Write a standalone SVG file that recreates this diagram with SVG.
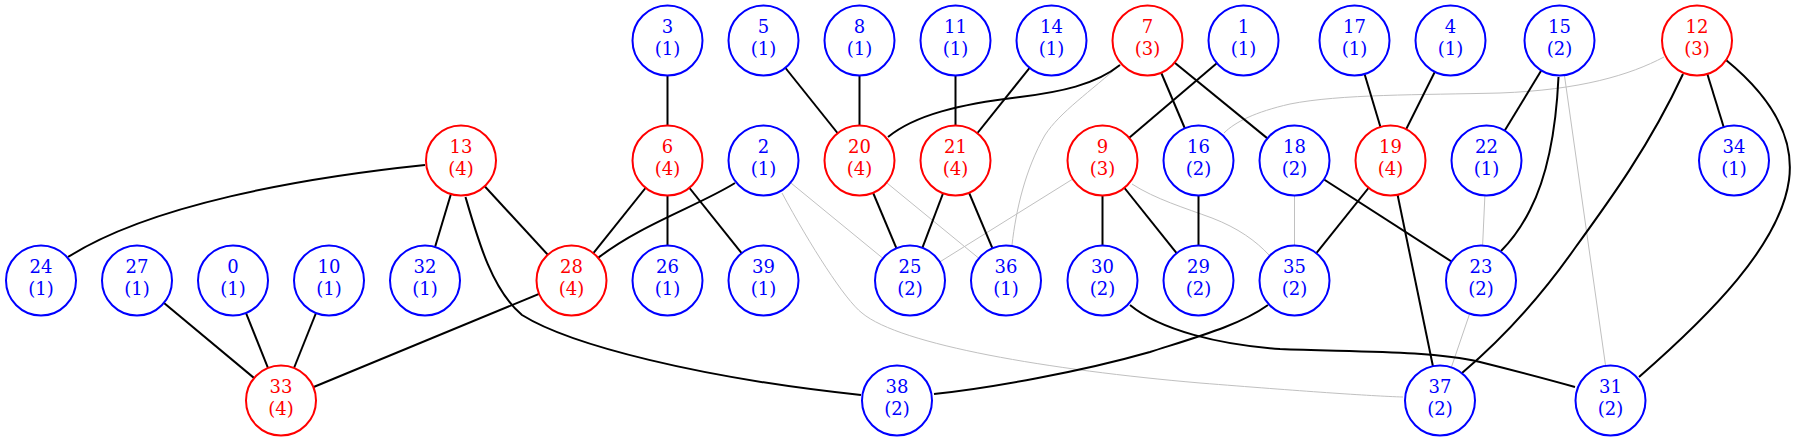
<svg xmlns="http://www.w3.org/2000/svg" width="1797" height="441" viewBox="0 0 1797 441">
<style>
.nd circle{fill:#fff;stroke-width:2}
.b circle{stroke:#0000ff}
.b text{fill:#0000ff}
.r circle{stroke:#ff0000}
.r text{fill:#ff0000}
text{font-family:"DejaVu Serif","Liberation Serif",serif;font-size:18px;text-anchor:middle}
.e{stroke:#000;stroke-width:2;fill:none}
.g{stroke:#c0c0c0;stroke-width:1;fill:none}
</style>
<rect width="1797" height="441" fill="#fff"/>
<g id="connectors">
<g class="g">
<line x1="763.5" y1="160.5" x2="910" y2="280.5"/>
<line x1="859.5" y1="160.5" x2="1006" y2="280.5"/>
<line x1="1102.5" y1="160.5" x2="910" y2="280.5"/>
<line x1="1294.5" y1="160.5" x2="1294.5" y2="280.5"/>
<line x1="1486.5" y1="160.5" x2="1481" y2="280.5"/>
<line x1="1481" y1="280.5" x2="1440" y2="400.5"/>
<line x1="1559.5" y1="40.5" x2="1610.5" y2="400.5"/>
<path d="M1122,63 C1090,92 1060,112 1045,135 C1025,170 1016,210 1012,245"/>
<path d="M782,193 C810,245 845,300 862,313 C900,345 1050,370 1200,383 C1300,391 1370,396 1403,397"/>
<path d="M1132,184 C1155,199 1185,208 1212,218 C1238,228 1256,241 1269,255"/>
<path d="M1664,57 C1630,75 1580,90 1500,93 C1420,95 1340,94 1290,104 C1255,112 1235,122 1224,133"/>
</g>
<g class="e">
<line x1="461" y1="160.5" x2="425" y2="280.5"/>
<line x1="461" y1="160.5" x2="571.5" y2="280.5"/>
<line x1="137" y1="280.5" x2="281" y2="400.5"/>
<line x1="233" y1="280.5" x2="281" y2="400.5"/>
<line x1="329" y1="280.5" x2="281" y2="400.5"/>
<line x1="571.5" y1="280.5" x2="281" y2="400.5"/>
<line x1="667.5" y1="40.5" x2="667.5" y2="160.5"/>
<line x1="667.5" y1="160.5" x2="571.5" y2="280.5"/>
<line x1="667.5" y1="160.5" x2="667.5" y2="280.5"/>
<line x1="667.5" y1="160.5" x2="763.5" y2="280.5"/>
<line x1="763.5" y1="40.5" x2="859.5" y2="160.5"/>
<line x1="859.5" y1="40.5" x2="859.5" y2="160.5"/>
<line x1="955.5" y1="40.5" x2="955.5" y2="160.5"/>
<line x1="1051.5" y1="40.5" x2="955.5" y2="160.5"/>
<line x1="859.5" y1="160.5" x2="910" y2="280.5"/>
<line x1="955.5" y1="160.5" x2="910" y2="280.5"/>
<line x1="955.5" y1="160.5" x2="1006" y2="280.5"/>
<line x1="1243.5" y1="40.5" x2="1102.5" y2="160.5"/>
<line x1="1147.5" y1="40.5" x2="1198.5" y2="160.5"/>
<line x1="1147.5" y1="40.5" x2="1294.5" y2="160.5"/>
<line x1="1102.5" y1="160.5" x2="1102.5" y2="280.5"/>
<line x1="1102.5" y1="160.5" x2="1198.5" y2="280.5"/>
<line x1="1198.5" y1="160.5" x2="1198.5" y2="280.5"/>
<line x1="1354.5" y1="40.5" x2="1390.5" y2="160.5"/>
<line x1="1450.5" y1="40.5" x2="1390.5" y2="160.5"/>
<line x1="1559.5" y1="40.5" x2="1486.5" y2="160.5"/>
<line x1="1294.5" y1="160.5" x2="1481" y2="280.5"/>
<line x1="1390.5" y1="160.5" x2="1294.5" y2="280.5"/>
<line x1="1390.5" y1="160.5" x2="1440" y2="400.5"/>
<line x1="1697" y1="40.5" x2="1734" y2="160.5"/>
<path d="M425,165 C300,178 150,205 68,257"/>
<path d="M465.5,197 C478,240 492,290 522,315 C570,345 700,378 861,395"/>
<path d="M735,183 C700,205 640,225 598,258"/>
<path d="M1120,65 C1095,85 1060,92 1020,97 C960,104 915,115 888,137"/>
<path d="M1268,305 C1240,325 1200,336 1150,352 C1080,372 990,388 934,394"/>
<path d="M1130,305 C1160,330 1220,345 1280,349 C1350,352 1430,350 1480,362 C1520,372 1550,380 1575,387"/>
<path d="M1558.5,77 C1556,130 1548,175 1530,210 C1520,230 1509,243 1501,251"/>
<path d="M1683,74 C1650,145 1610,200 1575,248 C1535,305 1495,345 1462,373"/>
<path d="M1726,60 C1770,96 1795,135 1789,180 C1780,245 1710,315 1639,377"/>
</g>
</g>
<g id="node-0" class="nd b"><circle cx="233" cy="280.5" r="35"/><text><tspan x="233" y="273">0</tspan><tspan x="233" y="294.7">(1)</tspan></text></g>
<g id="node-1" class="nd b"><circle cx="1243.5" cy="40.5" r="35"/><text><tspan x="1243.5" y="33">1</tspan><tspan x="1243.5" y="54.7">(1)</tspan></text></g>
<g id="node-2" class="nd b"><circle cx="763.5" cy="160.5" r="35"/><text><tspan x="763.5" y="153">2</tspan><tspan x="763.5" y="174.7">(1)</tspan></text></g>
<g id="node-3" class="nd b"><circle cx="667.5" cy="40.5" r="35"/><text><tspan x="667.5" y="33">3</tspan><tspan x="667.5" y="54.7">(1)</tspan></text></g>
<g id="node-4" class="nd b"><circle cx="1450.5" cy="40.5" r="35"/><text><tspan x="1450.5" y="33">4</tspan><tspan x="1450.5" y="54.7">(1)</tspan></text></g>
<g id="node-5" class="nd b"><circle cx="763.5" cy="40.5" r="35"/><text><tspan x="763.5" y="33">5</tspan><tspan x="763.5" y="54.7">(1)</tspan></text></g>
<g id="node-6" class="nd r"><circle cx="667.5" cy="160.5" r="35"/><text><tspan x="667.5" y="153">6</tspan><tspan x="667.5" y="174.7">(4)</tspan></text></g>
<g id="node-7" class="nd r"><circle cx="1147.5" cy="40.5" r="35"/><text><tspan x="1147.5" y="33">7</tspan><tspan x="1147.5" y="54.7">(3)</tspan></text></g>
<g id="node-8" class="nd b"><circle cx="859.5" cy="40.5" r="35"/><text><tspan x="859.5" y="33">8</tspan><tspan x="859.5" y="54.7">(1)</tspan></text></g>
<g id="node-9" class="nd r"><circle cx="1102.5" cy="160.5" r="35"/><text><tspan x="1102.5" y="153">9</tspan><tspan x="1102.5" y="174.7">(3)</tspan></text></g>
<g id="node-10" class="nd b"><circle cx="329" cy="280.5" r="35"/><text><tspan x="329" y="273">10</tspan><tspan x="329" y="294.7">(1)</tspan></text></g>
<g id="node-11" class="nd b"><circle cx="955.5" cy="40.5" r="35"/><text><tspan x="955.5" y="33">11</tspan><tspan x="955.5" y="54.7">(1)</tspan></text></g>
<g id="node-12" class="nd r"><circle cx="1697" cy="40.5" r="35"/><text><tspan x="1697" y="33">12</tspan><tspan x="1697" y="54.7">(3)</tspan></text></g>
<g id="node-13" class="nd r"><circle cx="461" cy="160.5" r="35"/><text><tspan x="461" y="153">13</tspan><tspan x="461" y="174.7">(4)</tspan></text></g>
<g id="node-14" class="nd b"><circle cx="1051.5" cy="40.5" r="35"/><text><tspan x="1051.5" y="33">14</tspan><tspan x="1051.5" y="54.7">(1)</tspan></text></g>
<g id="node-15" class="nd b"><circle cx="1559.5" cy="40.5" r="35"/><text><tspan x="1559.5" y="33">15</tspan><tspan x="1559.5" y="54.7">(2)</tspan></text></g>
<g id="node-16" class="nd b"><circle cx="1198.5" cy="160.5" r="35"/><text><tspan x="1198.5" y="153">16</tspan><tspan x="1198.5" y="174.7">(2)</tspan></text></g>
<g id="node-17" class="nd b"><circle cx="1354.5" cy="40.5" r="35"/><text><tspan x="1354.5" y="33">17</tspan><tspan x="1354.5" y="54.7">(1)</tspan></text></g>
<g id="node-18" class="nd b"><circle cx="1294.5" cy="160.5" r="35"/><text><tspan x="1294.5" y="153">18</tspan><tspan x="1294.5" y="174.7">(2)</tspan></text></g>
<g id="node-19" class="nd r"><circle cx="1390.5" cy="160.5" r="35"/><text><tspan x="1390.5" y="153">19</tspan><tspan x="1390.5" y="174.7">(4)</tspan></text></g>
<g id="node-20" class="nd r"><circle cx="859.5" cy="160.5" r="35"/><text><tspan x="859.5" y="153">20</tspan><tspan x="859.5" y="174.7">(4)</tspan></text></g>
<g id="node-21" class="nd r"><circle cx="955.5" cy="160.5" r="35"/><text><tspan x="955.5" y="153">21</tspan><tspan x="955.5" y="174.7">(4)</tspan></text></g>
<g id="node-22" class="nd b"><circle cx="1486.5" cy="160.5" r="35"/><text><tspan x="1486.5" y="153">22</tspan><tspan x="1486.5" y="174.7">(1)</tspan></text></g>
<g id="node-23" class="nd b"><circle cx="1481" cy="280.5" r="35"/><text><tspan x="1481" y="273">23</tspan><tspan x="1481" y="294.7">(2)</tspan></text></g>
<g id="node-24" class="nd b"><circle cx="41" cy="280.5" r="35"/><text><tspan x="41" y="273">24</tspan><tspan x="41" y="294.7">(1)</tspan></text></g>
<g id="node-25" class="nd b"><circle cx="910" cy="280.5" r="35"/><text><tspan x="910" y="273">25</tspan><tspan x="910" y="294.7">(2)</tspan></text></g>
<g id="node-26" class="nd b"><circle cx="667.5" cy="280.5" r="35"/><text><tspan x="667.5" y="273">26</tspan><tspan x="667.5" y="294.7">(1)</tspan></text></g>
<g id="node-27" class="nd b"><circle cx="137" cy="280.5" r="35"/><text><tspan x="137" y="273">27</tspan><tspan x="137" y="294.7">(1)</tspan></text></g>
<g id="node-28" class="nd r"><circle cx="571.5" cy="280.5" r="35"/><text><tspan x="571.5" y="273">28</tspan><tspan x="571.5" y="294.7">(4)</tspan></text></g>
<g id="node-29" class="nd b"><circle cx="1198.5" cy="280.5" r="35"/><text><tspan x="1198.5" y="273">29</tspan><tspan x="1198.5" y="294.7">(2)</tspan></text></g>
<g id="node-30" class="nd b"><circle cx="1102.5" cy="280.5" r="35"/><text><tspan x="1102.5" y="273">30</tspan><tspan x="1102.5" y="294.7">(2)</tspan></text></g>
<g id="node-31" class="nd b"><circle cx="1610.5" cy="400.5" r="35"/><text><tspan x="1610.5" y="393">31</tspan><tspan x="1610.5" y="414.7">(2)</tspan></text></g>
<g id="node-32" class="nd b"><circle cx="425" cy="280.5" r="35"/><text><tspan x="425" y="273">32</tspan><tspan x="425" y="294.7">(1)</tspan></text></g>
<g id="node-33" class="nd r"><circle cx="281" cy="400.5" r="35"/><text><tspan x="281" y="393">33</tspan><tspan x="281" y="414.7">(4)</tspan></text></g>
<g id="node-34" class="nd b"><circle cx="1734" cy="160.5" r="35"/><text><tspan x="1734" y="153">34</tspan><tspan x="1734" y="174.7">(1)</tspan></text></g>
<g id="node-35" class="nd b"><circle cx="1294.5" cy="280.5" r="35"/><text><tspan x="1294.5" y="273">35</tspan><tspan x="1294.5" y="294.7">(2)</tspan></text></g>
<g id="node-36" class="nd b"><circle cx="1006" cy="280.5" r="35"/><text><tspan x="1006" y="273">36</tspan><tspan x="1006" y="294.7">(1)</tspan></text></g>
<g id="node-37" class="nd b"><circle cx="1440" cy="400.5" r="35"/><text><tspan x="1440" y="393">37</tspan><tspan x="1440" y="414.7">(2)</tspan></text></g>
<g id="node-38" class="nd b"><circle cx="897" cy="400.5" r="35"/><text><tspan x="897" y="393">38</tspan><tspan x="897" y="414.7">(2)</tspan></text></g>
<g id="node-39" class="nd b"><circle cx="763.5" cy="280.5" r="35"/><text><tspan x="763.5" y="273">39</tspan><tspan x="763.5" y="294.7">(1)</tspan></text></g>
</svg>
